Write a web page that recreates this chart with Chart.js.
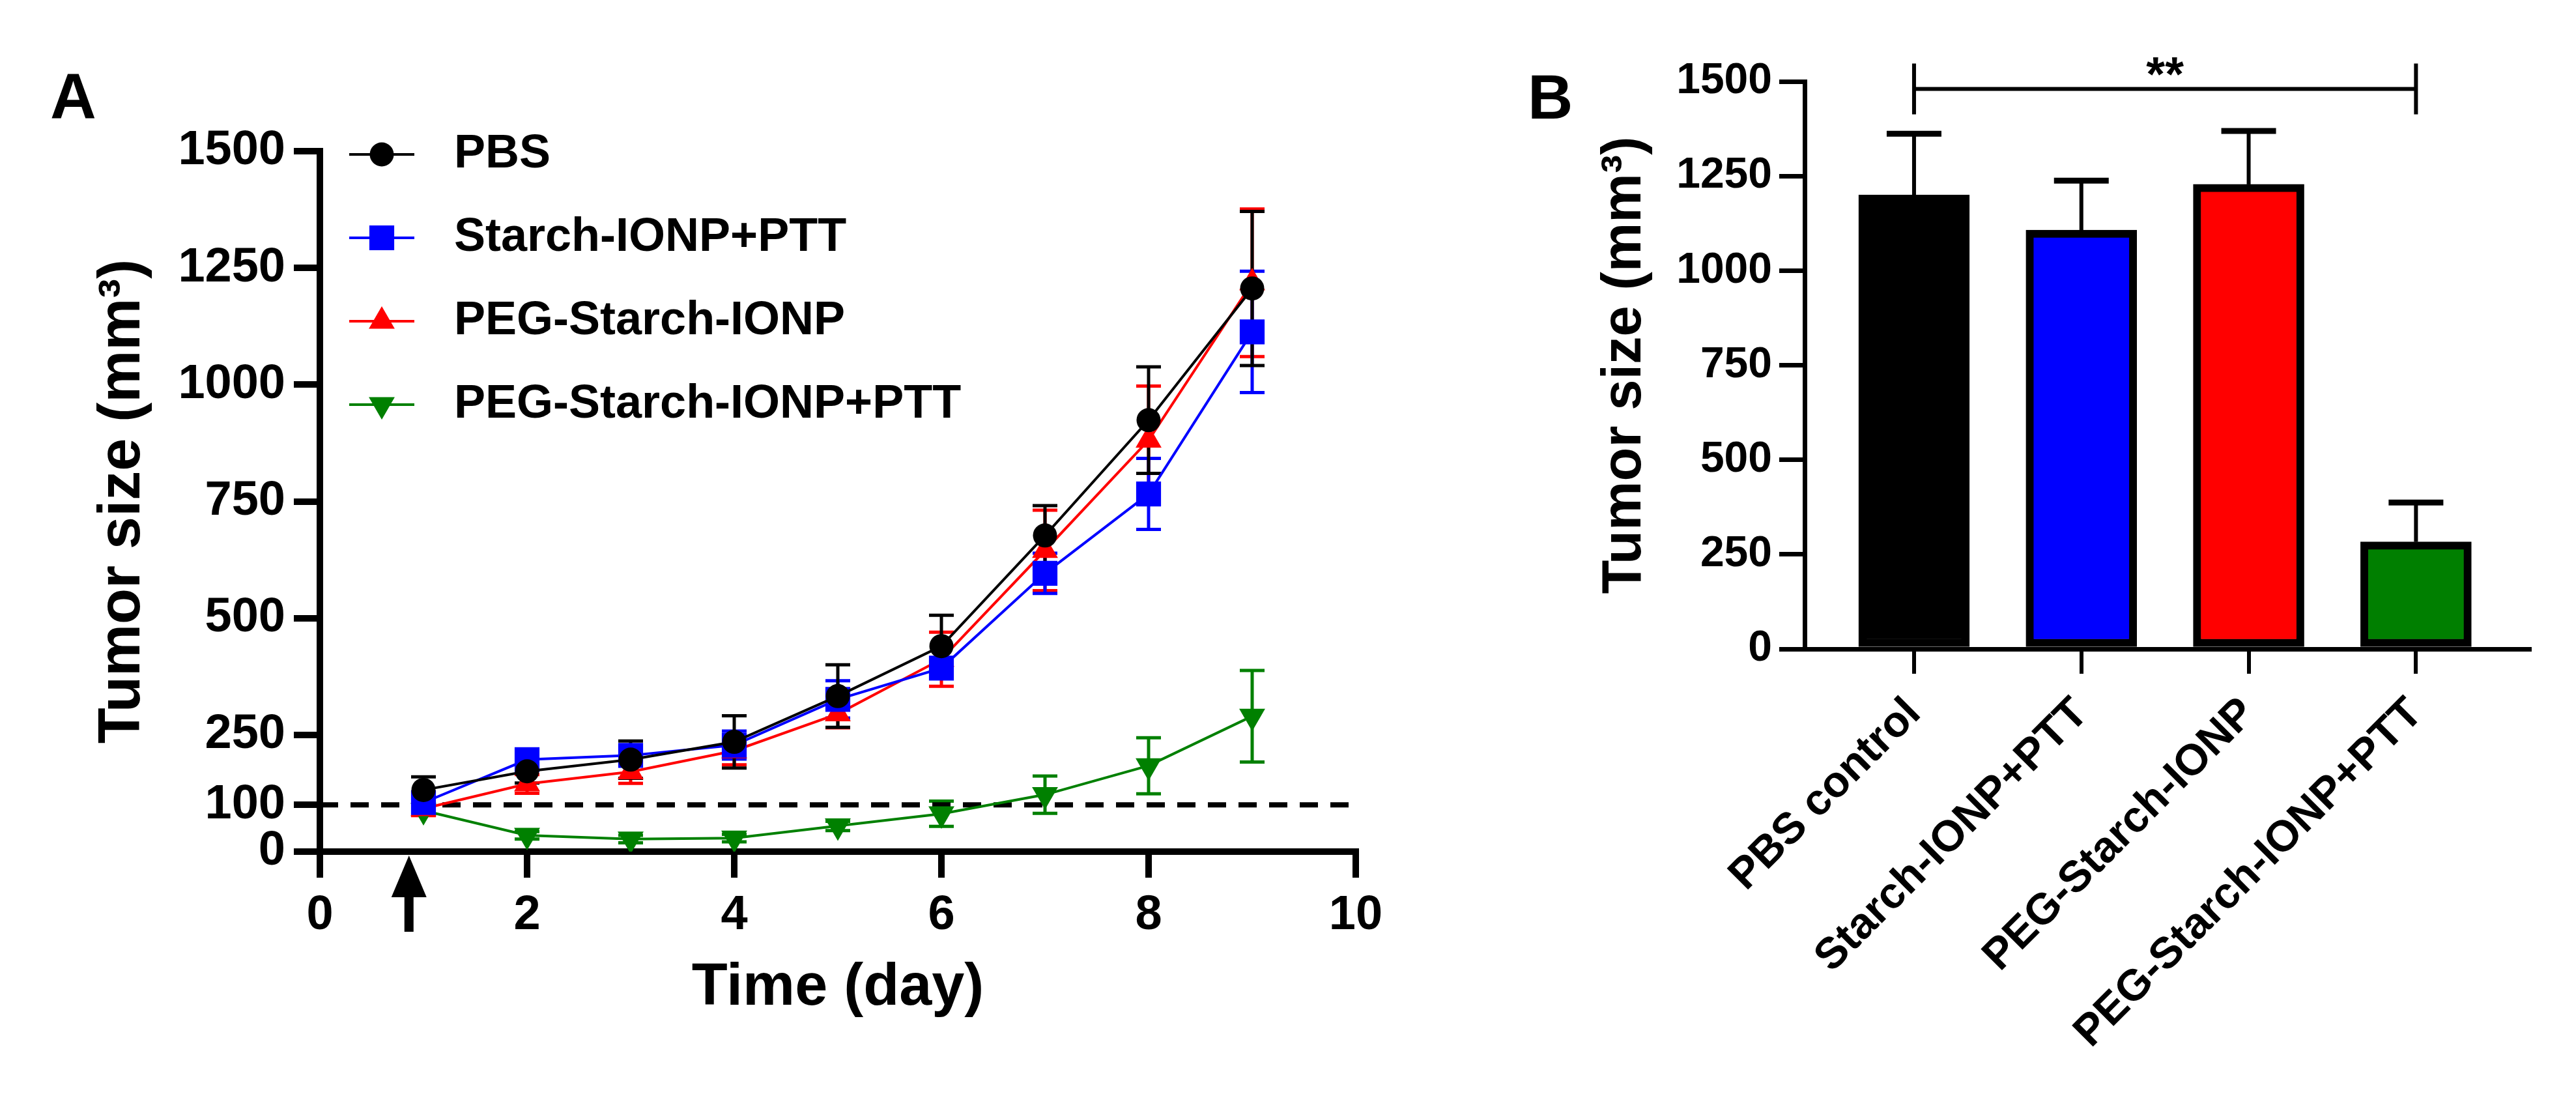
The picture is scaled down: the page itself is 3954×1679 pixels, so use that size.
<!DOCTYPE html>
<html>
<head>
<meta charset="utf-8">
<script src="https://cdn.jsdelivr.net/npm/chart.js@4.4.1/dist/chart.umd.min.js"></script>
<style>
  html, body { margin: 0; padding: 0; background: #fff; }
  #wrap { position: relative; width: 3954px; height: 1679px; background: #fff; }
  #chartA { position: absolute; left: 0; top: 0; width: 2200px; height: 1679px; }
  #chartB { position: absolute; left: 2200px; top: 0; width: 1754px; height: 1679px; }
</style>
</head>
<body>
<div id="wrap">
  <canvas id="chartA" width="2200" height="1679"></canvas>
  <canvas id="chartB" width="1754" height="1679"></canvas>
</div>
<script>
// ---- panel A data (tumour growth curves) ----
const days = [1, 2, 3, 4, 5, 6, 7, 8, 9];
const pbsMean = [132, 172, 197, 235, 333, 440, 677, 924, 1206];
const pbsErr = [28, 25, 40, 56, 67, 66, 64, 114, 165];
const starchMean = [105, 197, 206, 228, 326, 393, 596, 766, 1113];
const starchErr = [15, 15, 20, 30, 40, 22, 43, 76, 130];
const pegMean = [92, 145, 171, 216, 295, 412, 645, 881, 1218];
const pegErr = [15, 20, 25, 30, 30, 58, 86, 116, 158];
const pegPttMean = [88, 35, 27, 29, 55, 81, 122, 184, 290];
const pegPttErr = [8, 8, 8, 8, 10, 27, 40, 60, 98];
const yTicksA = [0, 100, 250, 500, 750, 1000, 1250, 1500];
const thresholdLine = [{ x: 0, y: 100 }, { x: 10, y: 100 }];
const arrowDay = 0.86; // treatment day marker

// ---- panel B data (final tumour size, day 9) ----
const groups = ['PBS control', 'Starch-IONP+PTT', 'PEG-Starch-IONP', 'PEG-Starch-IONP+PTT'];
const barMeans = [1200, 1107, 1228, 283];
const barErr = [162, 131, 141, 104];
const barColors = ['#000000', '#0000ff', '#ff0000', '#007f00'];
const bracketValue = 1480;

const FONT = "'Liberation Sans', Arial, sans-serif";
const plain = v => String(v);

const toPoints = (ys) => ys.map((v, i) => ({ x: days[i], y: v }));

const seriesA = [
  { label: 'PBS', data: toPoints(pbsMean), errors: pbsErr, color: '#000000', style: 'circle', radius: 18.5, rot: 0 },
  { label: 'Starch-IONP+PTT', data: toPoints(starchMean), errors: starchErr, color: '#0000ff', style: 'rect', radius: 27, rot: 0 },
  { label: 'PEG-Starch-IONP', data: toPoints(pegMean), errors: pegErr, color: '#ff0000', style: 'triangle', radius: 23, rot: 0 },
  { label: 'PEG-Starch-IONP+PTT', data: toPoints(pegPttMean), errors: pegPttErr, color: '#008000', style: 'triangle', radius: 23, rot: 180 }
];

// error bars for the line chart (both directions)
const errorBarsA = {
  id: 'errorBarsA',
  beforeDatasetsDraw(chart) {
    const { ctx, scales: { x, y } } = chart;
    for (let i = chart.data.datasets.length - 1; i >= 0; i--) {
      const ds = chart.data.datasets[i];
      if (!ds.errors) continue;
      ctx.save();
      ctx.strokeStyle = ds.borderColor;
      ctx.lineWidth = 5;
      ds.data.forEach((p, j) => {
        const px = x.getPixelForValue(p.x);
        const top = y.getPixelForValue(p.y + ds.errors[j]);
        const bot = y.getPixelForValue(Math.max(p.y - ds.errors[j], 0));
        ctx.beginPath();
        ctx.moveTo(px, top); ctx.lineTo(px, bot);
        ctx.moveTo(px - 19, top); ctx.lineTo(px + 19, top);
        ctx.moveTo(px - 19, bot); ctx.lineTo(px + 19, bot);
        ctx.stroke();
      });
      ctx.restore();
    }
  }
};

// legend, arrow and panel letter for chart A
const decorA = {
  id: 'decorA',
  afterDraw(chart) {
    const { ctx, chartArea, scales: { x } } = chart;
    ctx.save();
    // legend
    seriesA.forEach((s, i) => {
      const cy = chartArea.top + 5 + i * 128;
      const cx = chartArea.left + 95;
      ctx.strokeStyle = s.color;
      ctx.lineWidth = 4;
      ctx.beginPath();
      ctx.moveTo(cx - 50, cy); ctx.lineTo(cx + 50, cy);
      ctx.stroke();
      ctx.fillStyle = s.color;
      Chart.helpers.drawPoint(ctx, { pointStyle: s.style, radius: s.radius, rotation: s.rot, borderWidth: 0 }, cx, cy);
      ctx.fillStyle = '#000';
      ctx.font = 'bold 72px ' + FONT;
      ctx.textAlign = 'left';
      ctx.textBaseline = 'middle';
      ctx.fillText(s.label, chartArea.left + 206, cy);
    });
    // arrow under the axis
    const ax = x.getPixelForValue(arrowDay);
    const tip = chartArea.bottom + 6;
    ctx.fillStyle = '#000';
    ctx.beginPath();
    ctx.moveTo(ax, tip);
    ctx.lineTo(ax + 27, tip + 64);
    ctx.lineTo(ax - 27, tip + 64);
    ctx.closePath();
    ctx.fill();
    ctx.fillRect(ax - 7, tip + 60, 14, 57);
    // panel letter
    ctx.font = 'bold 98px ' + FONT;
    ctx.textAlign = 'left';
    ctx.textBaseline = 'alphabetic';
    ctx.fillText('A', 77, 181);
    ctx.restore();
  }
};

new Chart(document.getElementById('chartA'), {
  type: 'line',
  data: {
    datasets: seriesA.map(s => ({
      label: s.label,
      data: s.data,
      errors: s.errors,
      borderColor: s.color,
      backgroundColor: s.color,
      borderWidth: 4,
      tension: 0,
      pointStyle: s.style,
      pointRadius: s.radius,
      pointRotation: s.rot,
      pointBorderWidth: 0,
      pointBackgroundColor: s.color
    })).concat([{
      label: 'threshold',
      data: thresholdLine,
      borderColor: '#000',
      borderWidth: 8,
      borderDash: [28, 19],
      pointRadius: 0
    }])
  },
  options: {
    responsive: false,
    devicePixelRatio: 1,
    animation: false,
    layout: { padding: { left: 0, top: 232, right: 119, bottom: 0 } },
    plugins: { legend: { display: false }, tooltip: { enabled: false } },
    scales: {
      x: {
        type: 'linear', min: 0, max: 10,
        ticks: { stepSize: 2, callback: plain, color: '#000', padding: 14, font: { family: FONT, size: 74, weight: 'bold' } },
        grid: { drawOnChartArea: false, drawTicks: true, tickLength: 40, lineWidth: 10, color: '#000' },
        border: { display: true, width: 10, color: '#000' },
        title: { display: true, text: 'Time (day)', color: '#000', font: { family: FONT, size: 90, weight: 'bold' }, padding: { top: 0, bottom: 108 } },
        afterFit: s => { s.height = 372; }
      },
      y: {
        type: 'linear', min: 0, max: 1500,
        afterBuildTicks: s => { s.ticks = yTicksA.map(v => ({ value: v })); },
        ticks: { callback: plain, color: '#000', padding: 13, font: { family: FONT, size: 74, weight: 'bold' } },
        grid: { drawOnChartArea: false, drawTicks: true, tickLength: 40, lineWidth: 10, color: '#000' },
        border: { display: true, width: 10, color: '#000' },
        title: { display: true, text: 'Tumor size (mm³)', color: '#000', font: { family: FONT, size: 90, weight: 'bold' }, padding: { top: 135, bottom: 0 } },
        afterFit: s => { s.width = 491; }
      }
    }
  },
  plugins: [errorBarsA, decorA]
});

// one-sided error bars, bracket and panel letter for chart B
const decorB = {
  id: 'decorB',
  afterDatasetsDraw(chart) {
    const { ctx, scales: { x, y } } = chart;
    ctx.save();
    ctx.strokeStyle = '#000';
    barMeans.forEach((m, i) => {
      const px = x.getPixelForValue(i);
      const top = y.getPixelForValue(m + barErr[i]);
      const base = y.getPixelForValue(m);
      ctx.lineWidth = 6;
      ctx.beginPath();
      ctx.moveTo(px, base); ctx.lineTo(px, top);
      ctx.stroke();
      ctx.lineWidth = 9;
      ctx.beginPath();
      ctx.moveTo(px - 42, top); ctx.lineTo(px + 42, top);
      ctx.stroke();
    });
    // significance bracket
    const bx0 = x.getPixelForValue(0);
    const bx1 = x.getPixelForValue(groups.length - 1);
    const by = y.getPixelForValue(bracketValue);
    ctx.lineWidth = 6;
    ctx.beginPath();
    ctx.moveTo(bx0, by); ctx.lineTo(bx1, by);
    ctx.moveTo(bx0, by - 39); ctx.lineTo(bx0, by + 39);
    ctx.moveTo(bx1, by - 39); ctx.lineTo(bx1, by + 39);
    ctx.stroke();
    ctx.fillStyle = '#000';
    ctx.font = 'bold 74px ' + FONT;
    ctx.textAlign = 'center';
    ctx.textBaseline = 'alphabetic';
    ctx.fillText('**', (bx0 + bx1) / 2, by + 2);
    // panel letter
    ctx.textAlign = 'left';
    ctx.font = 'bold 96px ' + FONT;
    ctx.fillText('B', 145, 182);
    ctx.restore();
  }
};

new Chart(document.getElementById('chartB'), {
  type: 'bar',
  data: {
    datasets: [{
      label: 'Tumor size',
      data: barMeans.map((v, i) => ({ x: i, y: v })),
      backgroundColor: barColors,
      borderColor: '#000',
      borderWidth: 12,
      borderSkipped: false,
      barThickness: 170
    }]
  },
  options: {
    responsive: false,
    devicePixelRatio: 1,
    animation: false,
    layout: { padding: { left: 0, top: 125, right: 71, bottom: 0 } },
    plugins: { legend: { display: false }, tooltip: { enabled: false } },
    scales: {
      x: {
        type: 'linear', min: -0.654, max: 3.68, offset: false,
        afterBuildTicks: s => { s.ticks = groups.map((g, i) => ({ value: i })); },
        ticks: {
          callback: v => groups[Math.round(v)],
          autoSkip: false, minRotation: 45, maxRotation: 45,
          color: '#000', padding: 22, font: { family: FONT, size: 67, weight: 'bold' }
        },
        grid: { offset: false, drawOnChartArea: false, drawTicks: true, tickLength: 38, lineWidth: 6, color: '#000' },
        border: { display: true, width: 7, color: '#000' },
        afterFit: s => { s.height = 683; }
      },
      y: {
        type: 'linear', min: 0, max: 1500,
        ticks: { stepSize: 250, callback: plain, color: '#000', padding: 11, font: { family: FONT, size: 66, weight: 'bold' } },
        grid: { drawOnChartArea: false, drawTicks: true, tickLength: 39, lineWidth: 7, color: '#000' },
        border: { display: true, width: 7, color: '#000' },
        title: { display: true, text: 'Tumor size (mm³)', color: '#000', font: { family: FONT, size: 85, weight: 'bold' }, padding: { top: 244, bottom: 0 } },
        afterFit: s => { s.width = 570; }
      }
    }
  },
  plugins: [decorB]
});
</script>
</body>
</html>
